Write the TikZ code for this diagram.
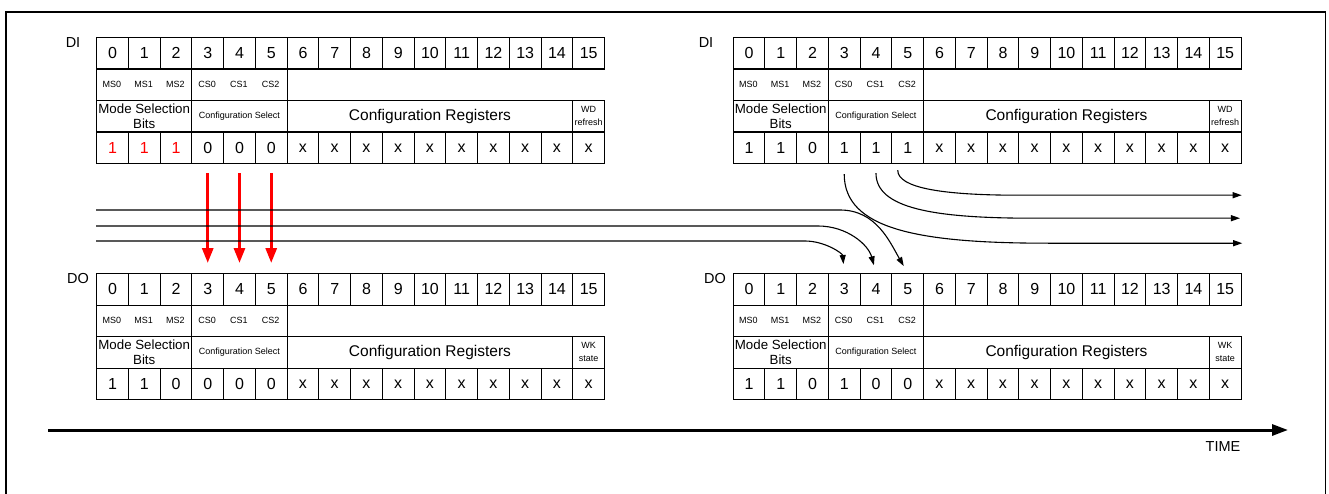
\documentclass[tikz,border=0pt]{standalone}
\usepackage{fontspec}
\setmainfont{Liberation Sans}
\usetikzlibrary{arrows.meta}
\definecolor{bitred}{RGB}{255,0,0}

\begin{document}
\begin{tikzpicture}[x=1pt,y=-1pt,
    bitcell/.style={draw, line width=1.2pt, minimum width=31.75pt, minimum height=31.5pt,
      inner sep=0pt, anchor=north west, font=\fontsize{16}{16}\selectfont},
    groupbox/.style={bitcell, align=center, font=\fontsize{9}{13}\selectfont},
    fieldtag/.style={inner sep=0pt, font=\fontsize{9}{9}\selectfont},
    portlbl/.style={inner sep=0pt, font=\fontsize{14.5}{14.5}\selectfont},
    flow/.style={line width=1.1pt, -{Triangle[width=6pt,length=9pt]}},
    copyarrow/.style={bitred, line width=3pt, shorten <=9pt, shorten >=10pt,
      -{Triangle[width=11pt,length=15pt]}},
    timeaxis/.style={line width=3pt, -{Triangle[width=11pt,length=16pt]}}]
  \useasboundingbox (0,0) rectangle (1329,494);
  % frame
  \draw[line width=1.2pt] (6,494) |- (1325.5,12) -- (1325.5,494);

  % the four registers
  \foreach \tab/\tx/\ty/\lx/\lbl/\vals/\last in {
      diL/96/37/-23/DI/{\textcolor{bitred}{1},\textcolor{bitred}{1},\textcolor{bitred}{1},0,0,0,x,x,x,x,x,x,x,x,x,x}/{WD\\refresh},
      diR/732.5/37/-26.5/DI/{1,1,0,1,1,1,x,x,x,x,x,x,x,x,x,x}/{WD\\refresh},
      doL/96/273/-18/DO/{1,1,0,0,0,0,x,x,x,x,x,x,x,x,x,x}/{WK\\state},
      doR/732.5/273/-17.5/DO/{1,1,0,1,0,0,x,x,x,x,x,x,x,x,x,x}/{WK\\state}}
  {
    \begin{scope}[shift={(\tx,\ty)}]
      \node[portlbl] (\tab-lbl) at (\lx,6) {\lbl};
      % bit numbers
      \foreach \c in {0,...,15}
        \node[bitcell] (\tab-b\c) at (\c*31.75,0) {\c};
      % field names
      \node[groupbox, minimum width=95.25pt] (\tab-msbox) at (0,31.5) {};
      \node[groupbox, minimum width=95.25pt] (\tab-csbox) at (95.25,31.5) {};
      \foreach \s [count=\c from 0] in {MS0,MS1,MS2,CS0,CS1,CS2}
        \node[fieldtag] (\tab-\s) at (\c*31.75+15.875,47.25) {\s};
      % field groups
      \node[groupbox, minimum width=95.25pt, font=\fontsize{13.3}{15}\selectfont]
        (\tab-mode) at (0,63) {Mode Selection\\Bits};
      \node[groupbox, minimum width=95.25pt] (\tab-conf) at (95.25,63) {Configuration Select};
      \node[groupbox, minimum width=285.75pt, font=\fontsize{15.5}{15.5}\selectfont]
        (\tab-regs) at (190.5,63) {Configuration Registers};
      \node[groupbox] (\tab-last) at (476.25,63) {\last};
      % bit values
      \foreach \v [count=\c from 0] in \vals
        \node[bitcell] (\tab-v\c) at (\c*31.75,94.5) {\v};
    \end{scope}
  }

  % configuration select copied to DO
  \foreach \c in {3,4,5}
    \draw[copyarrow] (diL-v\c.south) -- (doL-b\c.north);

  % incoming lines
  \coordinate (busA) at (96,210);
  \coordinate (busB) at (96,226);
  \coordinate (busC) at (96,241);
  \draw[flow, shorten >=8pt] (busA) -- ++(744,0) to[out=0,in=120] (doR-b5.north);
  \draw[flow, shorten >=8pt] (busB) -- ++(722,0) to[out=0,in=105] (doR-b4.north);
  \draw[flow, shorten >=9pt] (busC) -- ++(709,0) to[out=0,in=95] (doR-b3.north);

  % outgoing lines
  \draw[flow] ([yshift=-10pt]diR-v3.south) .. controls +(0,55) and +(-130,0) .. ++(204,69) -- ++(194,0);
  \draw[flow] ([yshift=-9pt]diR-v4.south) .. controls +(0,35) and +(-100,0) .. ++(157,45) -- ++(207,0);
  \draw[flow] ([xshift=-10pt,yshift=-6pt]diR-v5.south) .. controls +(0,18) and +(-75,0) .. ++(121,25) -- ++(223,0);

  % time axis
  \coordinate (t0) at (48,430);
  \coordinate (t1) at (1288,430);
  \draw[timeaxis] (t0) -- (t1);
  \node[portlbl] (time) at (1223,447) {TIME};
\end{tikzpicture}
\end{document}
